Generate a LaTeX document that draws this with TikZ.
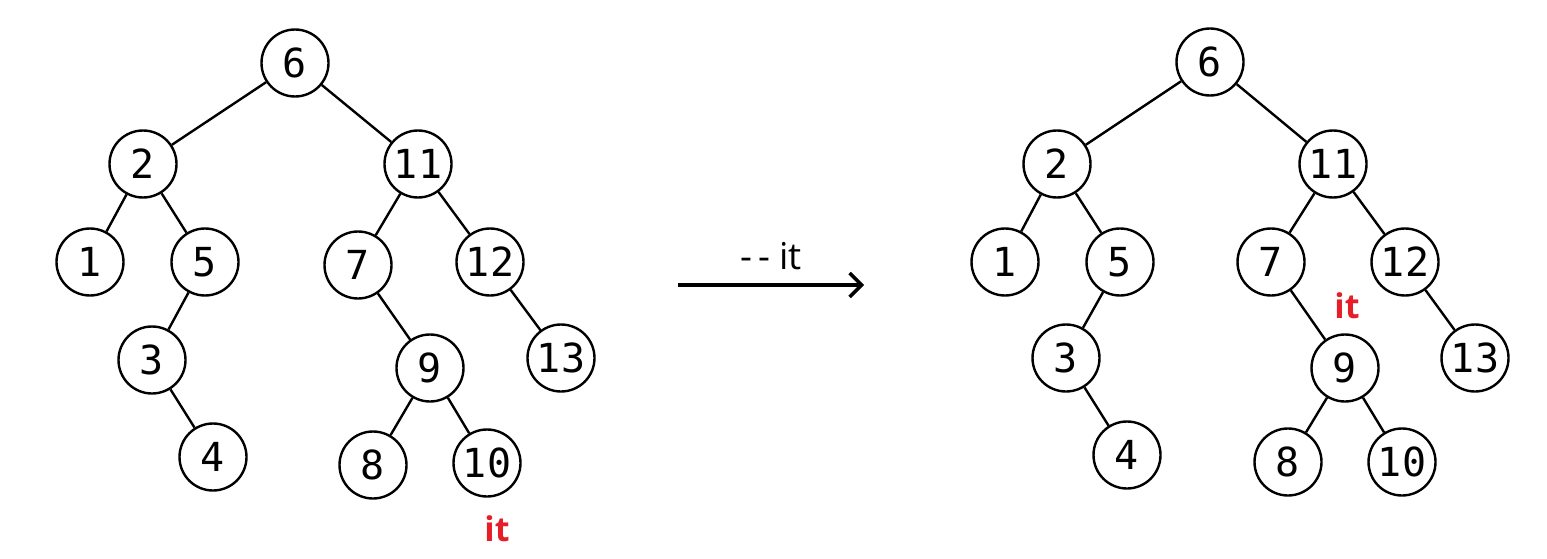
\documentclass[tikz,border=0pt]{standalone}
\usepackage{fontspec}
\setmainfont{Open Sans}
\newfontfamily\digitfont{DejaVu Sans Mono}
\usepackage{xcolor}
\usetikzlibrary{arrows.meta, positioning}
\definecolor{itred}{RGB}{230, 30, 40}

\tikzset{
  treenode/.style={circle, draw, line width=2.4pt, minimum size=67pt, inner sep=0pt,
    font=\digitfont\fontsize{40}{40}\selectfont},
  treeedge/.style={line width=2.4pt},
  itlabel/.style={text=itred, font=\bfseries\fontsize{34}{34}\selectfont}
}

\begin{document}
\begin{tikzpicture}[x=1pt, y=-1pt]
  \useasboundingbox (0,0) rectangle (1547,559);

  % --- Left: before ---
  \begin{scope}
    \foreach \n/\x/\y in {6/295/63, 2/143/164, 11/418/164, 1/90/262, 5/205/262,
      7/358/265, 12/490/262, 3/152/360, 9/430/368, 13/561/358, 4/213/457,
      8/373/465, 10/487/463}{
      \node[treenode] (l\n) at (\x,\y) {\n};
    }
    % edges
    \foreach \a/\b in {6/2, 6/11, 2/1, 2/5, 5/3, 3/4, 11/7, 11/12, 7/9, 12/13, 9/8, 9/10}{
      \draw[treeedge] (l\a) -- (l\b);
    }
    \node[itlabel] (lit) at (497,529) {it};
  \end{scope}

  % --- Middle: step ---
  \coordinate (arrA) at (678,285);
  \coordinate (arrB) at (864,285);
  \draw[line width=3.5pt, -{Straight Barb[length=12pt, width=24pt, line width=3.5pt]}] (arrA) -- (arrB)
    node[midway, above=10pt, font=\fontsize{37}{37}\selectfont] (step) {-\,- it};

  % --- Right: after ---
  \begin{scope}[xshift=915pt]
    \foreach \n/\x/\y in {6/295/62, 2/142/164, 11/418/164, 1/90/262, 5/205/262,
      7/356/262, 12/490/262, 3/151/358, 9/430/368, 13/560/358, 4/212/455,
      8/373/462, 10/487/462}{
      \node[treenode] (r\n) at (\x,\y) {\n};
    }
    % edges
    \foreach \a/\b in {6/2, 6/11, 2/1, 2/5, 5/3, 3/4, 11/7, 11/12, 7/9, 12/13, 9/8, 9/10}{
      \draw[treeedge] (r\a) -- (r\b);
    }
    \node[itlabel] (rit) at (432,306) {it};
  \end{scope}
\end{tikzpicture}
\end{document}
